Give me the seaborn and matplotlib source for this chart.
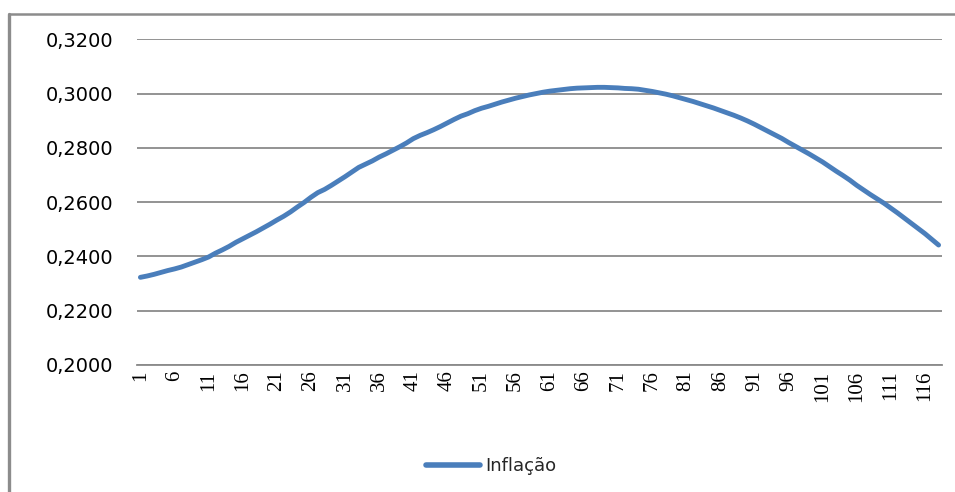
import numpy as np
import pandas as pd
import matplotlib
matplotlib.use("Agg")
import matplotlib.pyplot as plt
from matplotlib.lines import Line2D
from matplotlib.ticker import FuncFormatter
import seaborn as sns

# --- DADOS ---
periodos = list(range(1, 119))
inflacao = [
    0.2323, 0.2328, 0.2334, 0.2341, 0.2348, 0.2354, 0.2361, 0.2370, 0.2379, 0.2388,
    0.2398, 0.2412, 0.2424, 0.2437, 0.2452, 0.2465, 0.2478, 0.2491, 0.2505, 0.2519,
    0.2534, 0.2548, 0.2564, 0.2582, 0.2599, 0.2618, 0.2635, 0.2647, 0.2662, 0.2678,
    0.2694, 0.2711, 0.2728, 0.2740, 0.2752, 0.2766, 0.2778, 0.2791, 0.2804, 0.2818,
    0.2834, 0.2846, 0.2856, 0.2867, 0.2879, 0.2892, 0.2905, 0.2917, 0.2926, 0.2937,
    0.2946, 0.2953, 0.2961, 0.2969, 0.2976, 0.2983, 0.2989, 0.2995, 0.3000, 0.3005,
    0.3009, 0.3012, 0.3015, 0.3018, 0.3020, 0.3021, 0.3022, 0.3023, 0.3023, 0.3022,
    0.3021, 0.3019, 0.3018, 0.3016, 0.3012, 0.3008, 0.3003, 0.2998, 0.2992, 0.2985,
    0.2978, 0.2971, 0.2963, 0.2955, 0.2947, 0.2938, 0.2929, 0.2920, 0.2910, 0.2899,
    0.2887, 0.2874, 0.2861, 0.2848, 0.2835, 0.2820, 0.2806, 0.2792, 0.2778, 0.2763,
    0.2748, 0.2731, 0.2714, 0.2698, 0.2681, 0.2662, 0.2645, 0.2628, 0.2612, 0.2596,
    0.2578, 0.2560, 0.2541, 0.2522, 0.2503, 0.2484, 0.2463, 0.2442,
]
rotulos_x = list(range(1, 117, 5))
ticks_y = [0.20, 0.22, 0.24, 0.26, 0.28, 0.30, 0.32]

COR_LINHA = '#4A7EBB'
COR_GRADE = '#8A8A8A'

df = pd.DataFrame({'periodo': periodos, 'Inflação': inflacao})

sns.set_style("white")
fig = plt.figure(figsize=(9.55, 4.92), dpi=100)
ax = fig.add_axes([137 / 955, 1 - 365 / 492, (942 - 137) / 955, (365 - 39.3) / 492])

sns.lineplot(data=df, x='periodo', y='Inflação', color=COR_LINHA, linewidth=3.5, ax=ax, legend=False)

ax.set_xlim(0.5, 118.5)
ax.set_ylim(0.20, 0.32)
ax.set_yticks(ticks_y)
ax.yaxis.set_major_formatter(FuncFormatter(lambda v, p: f'{v:.4f}'.replace('.', ',')))
ax.set_xticks(rotulos_x)
ax.set_xticklabels([str(r) for r in rotulos_x], rotation=90, family='Liberation Serif', fontsize=15)
ax.tick_params(axis='y', length=0, pad=17, labelsize=14, labelcolor='black')
ax.tick_params(axis='x', length=0, pad=4, labelcolor='black')
ax.set_xlabel('')
ax.set_ylabel('')

# grade horizontal estilo Excel
ax.grid(axis='y', color=COR_GRADE, linewidth=1.3)
ax.set_axisbelow(True)
for lado in ['top', 'right', 'left']:
    ax.spines[lado].set_visible(False)
ax.spines['bottom'].set_color(COR_GRADE)
ax.spines['bottom'].set_linewidth(1.3)

# borda da área do gráfico (só topo e esquerda aparecem)
fig.add_artist(Line2D([9 / 955, 1.0], [1 - 14 / 492, 1 - 14 / 492], transform=fig.transFigure,
                      color='#8C8C8C', linewidth=1.8))
fig.add_artist(Line2D([9 / 955, 9 / 955], [0.0, 1 - 14 / 492], transform=fig.transFigure,
                      color='#8C8C8C', linewidth=2.4))

# legenda abaixo do gráfico
handle = Line2D([], [], color=COR_LINHA, linewidth=4)
fig.legend([handle], ['Inflação'], loc='center', bbox_to_anchor=(491 / 955, 1 - 466 / 492),
           frameon=False, fontsize=13, handlelength=3.0, handletextpad=0.3)

fig.savefig('out.png', dpi=100)
